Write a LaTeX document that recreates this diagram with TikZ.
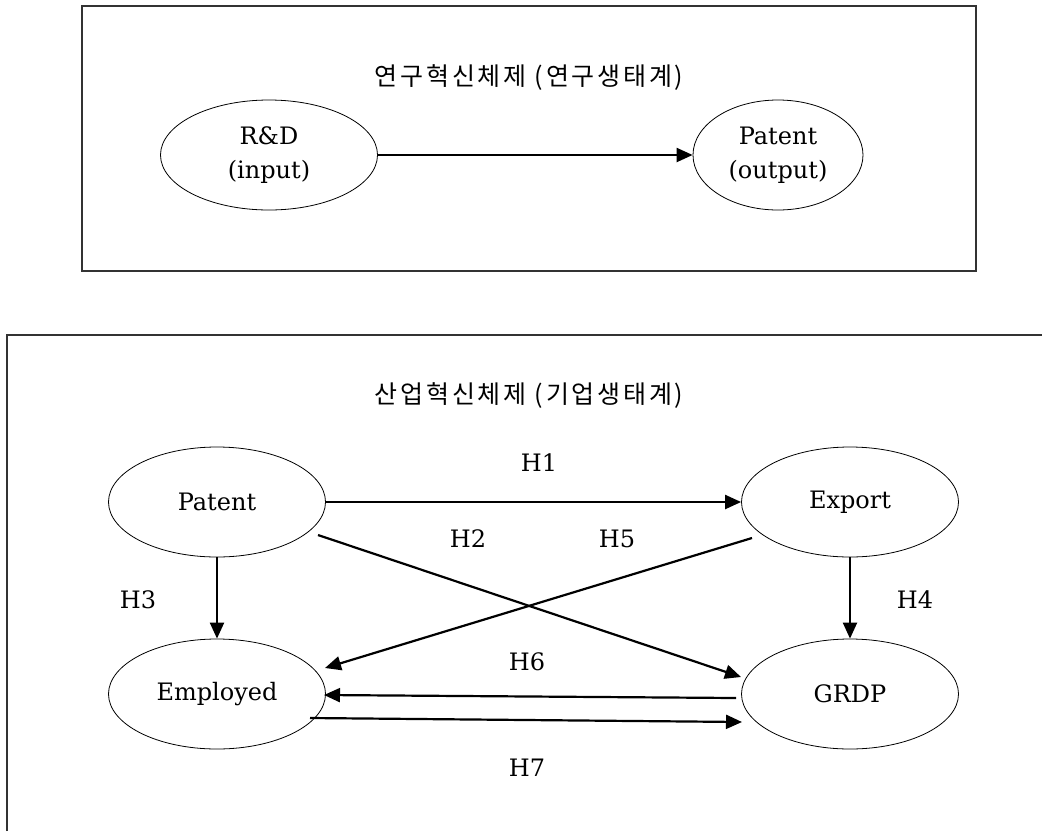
\documentclass[tikz,border=0pt]{standalone}
\usepackage{fontspec}
\setmainfont{DejaVu Serif}
\newfontfamily\kor[LetterSpace=11]{Noto Sans CJK KR}
\usetikzlibrary{arrows.meta,calc,shapes.geometric}
\begin{document}
\begin{tikzpicture}[x=1pt,y=-1pt,
  ell/.style={draw,ellipse,line width=0.8pt,minimum width=217pt,minimum height=110pt,inner sep=0pt,font=\fontsize{24}{34}\selectfont,align=center},
  conn/.style={line width=2.2pt,-{Triangle[length=16pt,width=14pt]}},
  lab/.style={font=\fontsize{24}{28}\selectfont},
  ttl/.style={font=\kor\fontsize{25}{30}\selectfont},
  frame/.style={line width=1.3pt,draw=black!80}]
\useasboundingbox (0,0) rectangle (1042,831);
% top frame
\draw[frame] (82,6) rectangle (976,271);
\node[ttl] (t1) at (529,78) {연구혁신체제 (연구생태계)};
\node[ell] (rd) at (269,155) {R\&D\\(input)};
\node[ell,minimum width=170pt] (po) at (778,155) {Patent\\(output)};
\draw[conn] (rd.east) -- (po.west);
% bottom frame
\draw[frame] (7,831) -- (7,335) -- (1042,335);
\node[ttl] (t2) at (529,396) {산업혁신체제 (기업생태계)};
\node[ell] (pat) at (217,502) {Patent};
\node[ell] (exp) at (850,502) {Export};
\node[ell] (emp) at (217,694) {Employed};
\node[ell] (grdp) at (850,694) {GRDP};
\draw[conn] (pat.east) -- (exp.west);
\draw[conn] ($(pat.center)+(101,33)$) -- ($(grdp.center)+(-109,-17)$);
\draw[conn] ($(exp.center)+(-98,36)$) -- ($(emp.center)+(108,-26)$);
\draw[conn] (pat.south) -- (emp.north);
\draw[conn] (exp.south) -- (grdp.north);
\draw[conn] ($(grdp.center)+(-114,4)$) -- ($(emp.center)+(107,1)$);
\draw[conn] ($(emp.center)+(93,24)$) -- ($(grdp.center)+(-108,28)$);
\node[lab] (h1) at (539,463) {H1};
\node[lab] (h2) at (468,539) {H2};
\node[lab] (h5) at (617,539) {H5};
\node[lab] (h3) at (138,600) {H3};
\node[lab] (h4) at (915,600) {H4};
\node[lab] (h6) at (527,662) {H6};
\node[lab] (h7) at (527,768) {H7};
\end{tikzpicture}
\end{document}
